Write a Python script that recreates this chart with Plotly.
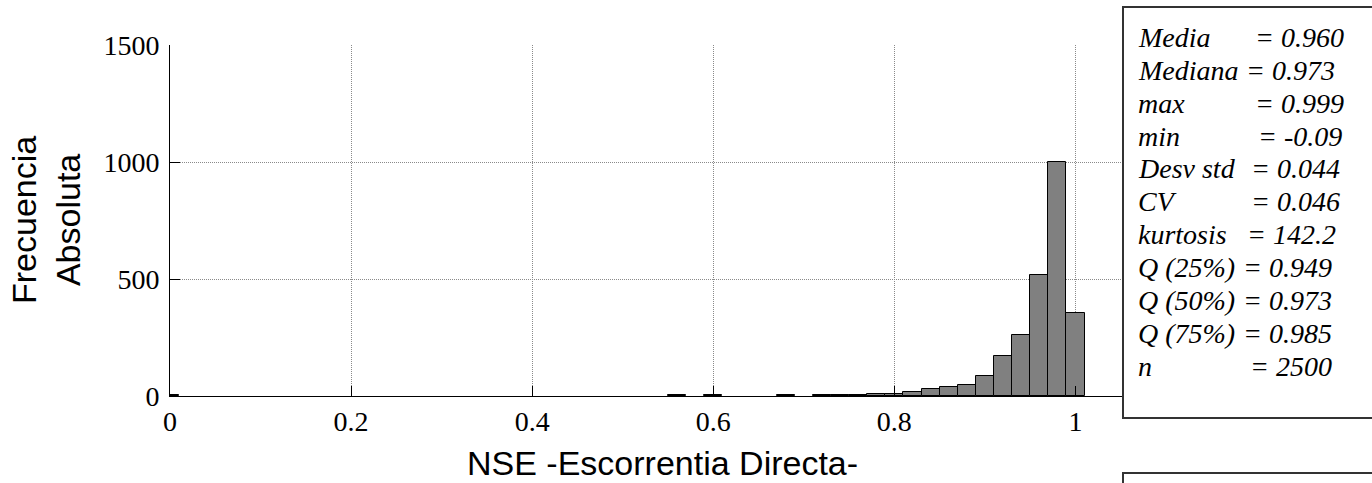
import plotly.graph_objects as go

# Histogram of NSE values (bin centres and absolute counts)
bin_centers = [0.00, 0.56, 0.60, 0.68, 0.72, 0.74, 0.76, 0.78, 0.80,
               0.82, 0.84, 0.86, 0.88, 0.90, 0.92, 0.94, 0.96, 0.98, 1.00]
counts = [4, 6, 6, 6, 6, 6, 6, 7, 7,
          18, 30, 40, 48, 85, 169, 262, 516, 1000, 356]
bin_width = 0.02

x_ticks = [0, 0.2, 0.4, 0.6, 0.8, 1.0]
x_tick_labels = ["0", "0.2", "0.4", "0.6", "0.8", "1"]
y_ticks = [0, 500, 1000, 1500]
y_tick_labels = ["0", "500", "1000", "1500"]

stat_names = ["Media", "Mediana", "max", "min", "Desv std", "CV",
              "kurtosis", "Q (25%)", "Q (50%)", "Q (75%)", "n"]
stat_values = ["0.960", "0.973", "0.999", "-0.09", "0.044", "0.046",
               "142.2", "0.949", "0.973", "0.985", "2500"]

x_title = "NSE -Escorrentia Directa-"
y_title = "Frecuencia<br>Absoluta"

# ---- figure geometry (pixels) ----
W, H = 1372, 483
ML, MR, MT, MB = 170, 206, 45, 87
PW, PH = W - ML - MR, H - MT - MB


def px_x(p):
    return (p - ML) / PW


def px_y(p):
    return (H - MB - p) / PH


serif = "Liberation Serif, Times New Roman, serif"
sans = "Liberation Sans, Arial, sans-serif"

fig = go.Figure()
fig.add_trace(go.Bar(
    x=bin_centers, y=counts, width=bin_width,
    marker=dict(color="#808080", line=dict(color="black", width=1)),
    showlegend=False, hoverinfo="x+y",
))

axis_common = dict(
    ticks="inside", ticklen=10, tickwidth=1, tickcolor="black",
    showline=True, linecolor="black", linewidth=1,
    showgrid=True, gridcolor="#8a8a8a", gridwidth=1, griddash="1px,1px",
    zeroline=False, tickfont=dict(family=serif, size=28, color="black"),
)

fig.update_layout(
    width=W, height=H,
    margin=dict(l=ML, r=MR, t=MT, b=MB),
    paper_bgcolor="white", plot_bgcolor="white",
    bargap=0,
    xaxis=dict(range=[0, 1.1], tickmode="array", tickvals=x_ticks,
               ticktext=x_tick_labels, ticklabelstandoff=0, **axis_common),
    yaxis=dict(range=[0, 1500], tickmode="array", tickvals=y_ticks,
               ticktext=y_tick_labels, ticklabelstandoff=4, **axis_common),
    xaxis2=dict(overlaying="x", matches="x", side="top", range=[0, 1.1],
                tickmode="array", tickvals=x_ticks, ticks="inside",
                ticklen=3, tickwidth=2, tickcolor="black",
                showticklabels=False, showgrid=False, showline=False,
                zeroline=False),
)

# axis titles
fig.add_annotation(text=x_title, xref="paper", yref="paper",
                   x=px_x(662), y=px_y(463), xanchor="center", yanchor="middle",
                   showarrow=False, font=dict(family=sans, size=34, color="black"))
fig.add_annotation(text=y_title, xref="paper", yref="paper",
                   x=px_x(46), y=px_y(220), xanchor="center", yanchor="middle",
                   textangle=-90, showarrow=False,
                   font=dict(family=sans, size=34, color="black"))

# statistics box
fig.add_shape(type="rect", xref="paper", yref="paper",
              x0=px_x(1123), x1=px_x(1400), y0=px_y(418), y1=px_y(7),
              fillcolor="white", line=dict(color="#333333", width=2),
              layer="above")
fig.add_shape(type="rect", xref="paper", yref="paper",
              x0=px_x(1123), x1=px_x(1400), y0=px_y(540), y1=px_y(473),
              fillcolor="white", line=dict(color="#333333", width=2),
              layer="above")

row_top = 37.5
row_step = 32.85
eq_left = [1253, 1244, 1253, 1256, 1249, 1249, 1245, 1241, 1241, 1241, 1248]
for i, (name, val) in enumerate(zip(stat_names, stat_values)):
    yc = row_top + i * row_step
    fig.add_annotation(text=f"<i>{name}</i>", xref="paper", yref="paper",
                       x=px_x(1136), y=px_y(yc), xanchor="left", yanchor="middle",
                       showarrow=False,
                       font=dict(family=serif, size=28, color="black"))
    fig.add_annotation(text=f"<i>= {val}</i>", xref="paper", yref="paper",
                       x=px_x(eq_left[i]), y=px_y(yc), xanchor="left",
                       yanchor="middle", showarrow=False,
                       font=dict(family=serif, size=28, color="black"))

fig.write_html("out.html")
